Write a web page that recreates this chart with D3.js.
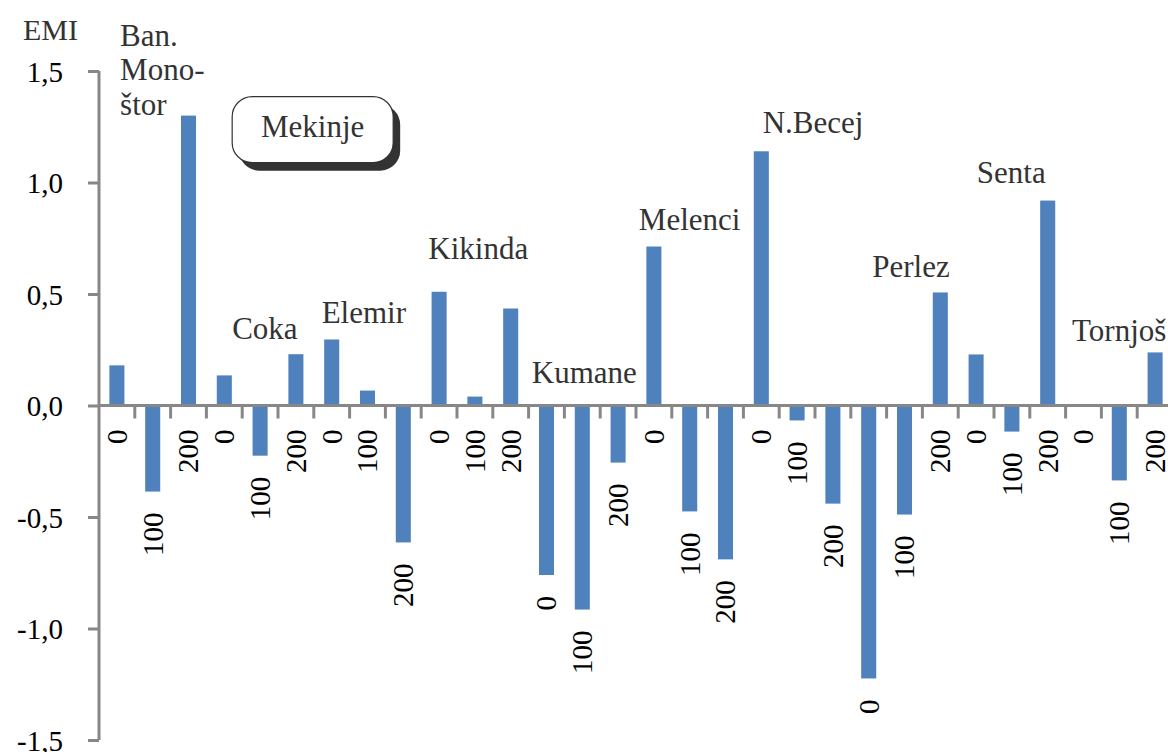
<!DOCTYPE html>
<html>
<head>
<meta charset="utf-8">
<script src="https://cdn.jsdelivr.net/npm/d3@7"></script>
<style>
  html, body { margin: 0; padding: 0; background: #fff; }
  svg { display: block; }
  svg text { font-family: "Liberation Serif", "Tinos", "Noto Serif", "DejaVu Serif", "FreeSerif", "Times New Roman", Times, serif; }
</style>
</head>
<body>
<svg id="chart" width="1168" height="752"></svg>
<script>
// ---- data ----
const sites = ["Ban. Monoštor", "Coka", "Elemir", "Kikinda", "Kumane", "Melenci", "N.Becej", "Perlez", "Senta", "Tornjoš"];
const doses = ["0", "100", "200"];
const emi = [
  0.18, -0.386, 1.30,    // Ban. Monoštor
  0.135, -0.225, 0.23,   // Coka
  0.296, 0.067, -0.614,  // Elemir
  0.51, 0.04, 0.435,     // Kikinda
  -0.76, -0.915, -0.256, // Kumane
  0.713, -0.475, -0.69,  // Melenci
  1.14, -0.067, -0.44,   // N.Becej
  -1.224, -0.489, 0.507, // Perlez
  0.229, -0.117, 0.919,  // Senta
  0.0, -0.336, 0.238     // Tornjoš
];
const yTicks = [-1.5, -1.0, -0.5, 0.0, 0.5, 1.0, 1.5];
const yTickLabels = ["-1,5", "-1,0", "-0,5", "0,0", "0,5", "1,0", "1,5"];
const siteLabelLines = [["Ban.", "Mono-", "štor"], ["Coka"], ["Elemir"], ["Kikinda"], ["Kumane"], ["Melenci"], ["N.Becej"], ["Perlez"], ["Senta"], ["Tornjoš"]];
// annotation anchors: [category index, EMI value at first baseline]
const siteLabelAnchors = [[0.59, 1.614], [3.72, 0.30], [6.22, 0.372], [9.2, 0.655], [12.09, 0.103], [15.08, 0.789], [18.54, 1.224], [21.6, 0.574], [24.52, 1.0], [27.18, 0.287]];
const boxLabel = "Mekinje";

// ---- layout ----
const FONT = "'Liberation Serif', 'Tinos', 'Noto Serif', 'DejaVu Serif', 'FreeSerif', 'Times New Roman', Times, serif";
const svg = d3.select("#chart");
const n = emi.length;
const x = d3.scaleBand().domain(d3.range(n)).range([99, 99 + n * 35.8]).paddingInner(0.58).paddingOuter(0.29);
const y = d3.scaleLinear().domain([-1.5, 1.5]).range([740, 71]);
const step = x.step();
const bw = x.bandwidth();
const catX = c => x.range()[0] + c * step;
const axisColor = "#878787";
const barColor = "#4F81BD";

// bars
svg.append("g").selectAll("rect").data(emi).join("rect")
  .attr("x", (d, i) => x(i))
  .attr("width", bw)
  .attr("y", d => y(Math.max(0, d)))
  .attr("height", d => Math.abs(y(d) - y(0)))
  .attr("fill", barColor);

// y axis
const yAxis = d3.axisLeft(y).tickValues(yTicks).tickSize(11).tickFormat((d, i) => yTickLabels[i]);
const gy = svg.append("g").attr("transform", "translate(99,0)").call(yAxis)
  .attr("font-family", FONT).attr("font-size", 29);
gy.select(".domain").attr("stroke", axisColor).attr("stroke-width", 3).attr("d", `M0,${y(1.5)}V${y(-1.5)}`);
gy.selectAll(".tick line").attr("stroke", axisColor).attr("stroke-width", 3);
gy.selectAll(".tick text").attr("x", -36).attr("dy", "0.36em").attr("fill", "#000")
  .style("font-family", FONT).style("font-size", "29px");

// x axis (zero line) with boundary ticks
const gx = svg.append("g");
gx.append("line").attr("x1", 99).attr("x2", 1168).attr("y1", y(0)).attr("y2", y(0))
  .attr("stroke", axisColor).attr("stroke-width", 3);
gx.selectAll("line.tk").data(d3.range(1, n)).join("line").attr("class", "tk")
  .attr("x1", k => catX(k)).attr("x2", k => catX(k))
  .attr("y1", y(0)).attr("y2", y(0) + 13)
  .attr("stroke", axisColor).attr("stroke-width", 3);

// x category labels (rotated)
svg.append("g").selectAll("text").data(emi).join("text")
  .attr("transform", (d, i) => {
    const cx = x(i) + bw / 2;
    const yy = d < 0 ? y(d) + 21 : y(0) + 24;
    return `translate(${cx},${yy}) rotate(-90)`;
  })
  .attr("text-anchor", "end")
  .attr("dy", "0.34em")
  .style("font-family", FONT).style("font-size", "29px")
  .attr("fill", "#000")
  .text((d, i) => doses[i % 3]);

// EMI title
svg.append("text").attr("x", 23).attr("y", 40).style("font-family", FONT).style("font-size", "30px")
  .attr("fill", "#333").text("EMI");

// site labels
const gl = svg.append("g");
sites.forEach((s, i) => {
  const [c, v] = siteLabelAnchors[i];
  const t = gl.append("text").attr("x", catX(c)).attr("y", y(v))
    .style("font-family", FONT).style("font-size", "31px").attr("fill", "#333");
  siteLabelLines[i].forEach((line, j) => {
    t.append("tspan").attr("x", catX(c)).attr("dy", j === 0 ? 0 : 34.5).text(line);
  });
});

// Mekinje box
const bx = catX(3.72), by = y(1.385), bwid = 161, bh = 66;
const gb = svg.append("g");
gb.append("rect").attr("x", bx + 7).attr("y", by + 8).attr("width", bwid).attr("height", bh)
  .attr("rx", 20).attr("fill", "#333");
gb.append("rect").attr("x", bx).attr("y", by).attr("width", bwid).attr("height", bh)
  .attr("rx", 20).attr("fill", "#fff").attr("stroke", "#333").attr("stroke-width", 1.2);
gb.append("text").attr("x", bx + bwid / 2).attr("y", by + 40).attr("text-anchor", "middle")
  .style("font-family", FONT).style("font-size", "31px").attr("fill", "#333").text(boxLabel);
</script>
</body>
</html>
